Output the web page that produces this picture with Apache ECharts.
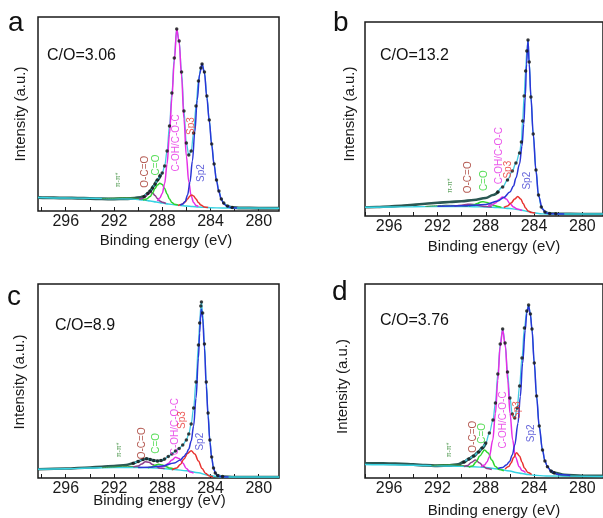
<!DOCTYPE html>
<html><head><meta charset="utf-8">
<script src="https://cdn.jsdelivr.net/npm/echarts@6/dist/echarts.min.js"></script>
<style>html,body{margin:0;padding:0;background:#fff}#c{width:603px;height:518px}</style>
</head><body><div id="c"></div>
<script>
// ---------- tick values ----------
const tickLabels = [280, 284, 288, 292, 296];
const tickMarks = [280, 282, 284, 286, 288, 290, 292, 294, 296, 298];
const compNames = ['π-π*', 'O-C=O', 'C=O', 'C-OH/C-O-C', 'Sp3', 'Sp2'];
const panelLetters = ['a', 'b', 'c', 'd'];
const ratioTexts = ['C/O=3.06', 'C/O=13.2', 'C/O=8.9', 'C/O=3.76'];

// ---------- panel a ----------
const a_base = [[298.3,13.5],[296,13],[294,12.7],[292,12.3],[290.5,12],[289.5,11],[289,10],[288.5,9],[288,8],[287.5,7],[287,6.2],[286.5,5.5],[286,5],[285.5,4.5],[285,4],[284.5,3.6],[284,3.3],[283,3],[278.3,2.8]];
const a_pi = [[293,12.5],[292,12.8],[291.3,13.4],[290.6,13.3],[290,12.4],[289.3,10.8]];
const a_oco = [[289.9,11.5],[289.6,12.7],[289.4,14.5],[289.2,17],[289.0,18.5],[288.8,18],[288.6,15.5],[288.4,12.5],[288.2,10],[288.0,8.8],[287.7,7.5]];
const a_co = [[289.6,11],[289.3,12],[289.0,14.5],[288.8,18],[288.6,22.5],[288.4,26],[288.2,27.7],[288.0,26.5],[287.8,22.5],[287.6,17],[287.4,12],[287.2,8.5],[287.0,6.8],[286.7,6]];
const a_coh = [[288.4,10],[288.2,13],[288.0,17.5],[287.8,27.5],[287.6,47],[287.4,77],[287.2,113],[287.0,150],[286.8,182],[286.6,169],[286.4,135],[286.2,92],[286.0,55],[285.8,29],[285.6,15],[285.4,8.5],[285.2,5.5],[285.0,4.3]];
const a_sp3 = [[286.7,5.5],[286.4,6.5],[286.1,9],[285.9,12],[285.7,15],[285.55,16],[285.4,15],[285.2,12],[285.0,8.5],[284.8,6],[284.5,4],[284.2,3.4]];
const a_sp2 = [[286.5,6],[286.3,7],[286.1,9.5],[285.9,16],[285.7,29],[285.5,50],[285.3,79],[285.1,111],[284.9,137],[284.7,147],[284.5,138],[284.3,113],[284.1,90],[283.9,66],[283.7,46],[283.5,30],[283.3,19],[283.1,11.5],[282.9,7],[282.6,4.5],[282.2,3.2],[281.8,3]];
const a_fit = [[289.5,14.5],[289.2,17.5],[289.0,20],[288.8,23],[288.6,27],[288.4,31],[288.2,35],[288.0,38],[287.8,45],[287.6,60],[287.4,85],[287.2,118],[287.0,153],[286.8,182],[286.6,170],[286.4,139],[286.2,100],[286.0,68],[285.8,56],[285.6,60],[285.4,78],[285.2,105],[285.0,130],[284.8,143],[284.7,147],[284.5,139],[284.3,115],[284.1,91],[283.9,67],[283.7,47],[283.5,31],[283.3,20],[283.1,12],[282.9,8],[282.6,5],[282.2,3.5]];
const a_bandL = [[298.3,13.5],[297,13.2],[296,13],[295,12.8],[294,12.5],[293,12.2],[292,12],[291,12.3],[290.3,12.8],[289.8,13.5],[289.5,14.5],[289.2,17.5],[289.0,20],[288.7,25],[288.4,31],[288.1,37]];
const a_bandR = [[282.6,5],[282.2,3.5],[281.5,3],[280,2.8],[278.3,2.8]];
const a_labelPos = [[291.69,31],[289.39,39.3],[288.48,46],[286.82,68],[285.58,85],[284.75,38]];

// ---------- panel b ----------
const b_base = [[298,8.7],[296,9],[294,9.3],[292,9.5],[290,9.5],[289,9.3],[288,9],[287,8.5],[286,7.5],[285.5,6.8],[285,5.8],[284.5,4.5],[284,3.2],[283.5,2.3],[283,2],[278.3,2]];
const b_pi = [[293,9.6],[292,10.2],[291.3,10.8],[290.5,10.5],[289.5,9.6]];
const b_oco = [[290.6,9.8],[290.0,10.8],[289.5,11.8],[289.0,11.5],[288.5,10.3],[288.0,9.4],[287.5,8.9]];
const b_co = [[289.4,10],[289.0,11],[288.7,12.5],[288.4,14],[288.2,14.3],[287.9,13.5],[287.6,12],[287.3,10.5],[287.0,9.5],[286.7,8.6]];
const b_coh = [[287.8,10],[287.5,11],[287.2,13],[286.9,16.5],[286.6,19],[286.3,17],[286.0,12.5],[285.7,9],[285.4,7],[285.0,5.5]];
const b_sp3 = [[286.5,8.5],[286.2,10],[285.9,13],[285.6,17],[285.35,19.5],[285.1,17],[284.9,12.5],[284.7,8],[284.5,5],[284.2,3.5],[283.9,3]];
const b_sp2 = [[292,9.7],[290,10.2],[288,11.5],[287,15],[286.5,18.5],[286,24],[285.7,30],[285.5,38],[285.2,52],[285.0,70],[284.85,92],[284.73,119],[284.62,152],[284.5,176],[284.4,152],[284.26,119],[284.07,82],[283.84,45],[283.63,20],[283.3,7],[283.0,3],[282.5,2.2],[281.5,2]];
const b_fit = [[287,24],[286.6,29],[286.2,36],[285.8,45],[285.5,53],[285.2,63],[285.05,74],[284.95,95],[284.82,120],[284.7,145],[284.6,165],[284.5,176],[284.4,154],[284.26,119],[284.07,82],[283.84,46],[283.63,21],[283.4,9],[283.1,4],[282.7,2.5],[282.2,2.2]];
const b_bandL = [[298,8.7],[297,9],[296,9.5],[295,10.3],[294,11.3],[293,12.3],[292,13.2],[291,14],[290,14.8],[289,16],[288,18],[287.4,21],[286.9,25]];
const b_bandR = [[283.1,4],[282.7,2.5],[282,2.2],[280,2],[278.3,2]];
const b_labelPos = [[290.94,30.3],[289.43,38.7],[288.16,35.3],[286.87,60.3],[286.1,46.3],[284.59,35.3]];

// ---------- panel c ----------
const c_base = [[298.3,8.7],[296,9.3],[294,10],[292,10.5],[290,10.5],[289,10.2],[288,9.5],[287,8.5],[286,7.3],[285,5.2],[284.3,3],[283.5,1.5],[283,1],[278.3,1]];
const c_pi = [[293,10.3],[292,11],[291.3,11.8],[290.5,11.6],[289.8,10.6]];
const c_oco = [[290.4,11],[290.0,12],[289.7,14],[289.4,16.3],[289.1,15.8],[288.8,13.5],[288.5,11.5],[288.2,10],[287.8,9.5]];
const c_co = [[289.2,10.3],[288.9,11],[288.6,12.8],[288.3,13.8],[288.0,13],[287.7,11.5],[287.4,10],[287.0,9]];
const c_coh = [[288.2,10.5],[287.8,12],[287.5,14.5],[287.2,18],[286.9,20.7],[286.6,19.5],[286.3,15],[286.0,9.5],[285.7,6],[285.4,4.8]];
const c_sp3 = [[287.2,8.2],[286.8,10],[286.5,13.5],[286.2,19],[285.9,24.5],[285.6,27.3],[285.3,24],[285.0,17],[284.7,9.5],[284.4,4.5],[284.1,2],[283.8,1.3]];
const c_sp2 = [[290,10.6],[289,10.8],[288,12],[287,15],[286.5,18],[286.2,21.5],[286,24.5],[285.8,29],[285.6,37],[285.4,52],[285.2,80],[285.0,120],[284.9,145],[284.8,165],[284.75,169],[284.65,160],[284.5,130],[284.35,92],[284.2,62],[284.05,36],[283.9,20],[283.75,10],[283.6,5],[283.4,2],[283.0,1.2],[282.5,1]];
const c_fit = [[290.4,14.7],[290,16.5],[289.6,18.5],[289.3,19.3],[289.0,18.5],[288.7,17.5],[288.4,17],[288.1,17.5],[287.8,19],[287.5,21.5],[287.2,24],[286.9,27],[286.6,29.5],[286.3,33],[286.0,38],[285.8,44],[285.6,54],[285.4,70],[285.2,96],[285.0,133],[284.9,155],[284.8,172],[284.75,176],[284.65,165],[284.5,134],[284.35,96],[284.2,65],[284.05,38],[283.9,21],[283.75,10],[283.6,5],[283.4,2.5],[283,1.5]];
const c_bandL = [[298.3,8.7],[296,9.5],[294,10.5],[293,11.3],[292,12],[291,13],[290.4,14.7],[290,16.5],[289.6,18.5],[289.3,19.3],[289.0,18.5],[288.7,17.5],[288.4,17],[288.1,17.5],[287.8,19]];
const c_bandR = [[283.4,2.5],[283,1.5],[282,1],[278.3,1]];
const c_labelPos = [[291.61,28],[289.67,34.7],[288.48,34.7],[286.96,51.3],[286.32,58],[284.89,36.3]];

// ---------- panel d ----------
const d_base = [[298,13.5],[296,13.2],[294,12.8],[292,12.3],[290,11.8],[289,11.2],[288,10.5],[287,9],[286,7],[285.5,5.5],[285,4.5],[284.5,3.5],[284,2.8],[283,2],[278.3,1.5]];
const d_pi = [[292.5,12.4],[291.5,13.2],[290.8,13.4],[290,12.5],[289.3,11]];
const d_oco = [[289.8,11.3],[289.5,12.5],[289.2,15.5],[288.85,18],[288.5,15],[288.2,11.5],[287.9,9.5],[287.5,8.5]];
const d_co = [[289.4,10.8],[289.1,12],[288.8,16],[288.5,22],[288.1,28],[287.8,25],[287.5,18],[287.2,11.5],[286.9,8.5],[286.5,7.3]];
const d_coh = [[288.4,11],[288.1,13],[287.9,16],[287.7,21.3],[287.42,38],[287.2,64.7],[287.0,98],[286.81,131.3],[286.6,148],[286.37,131.3],[286.18,98],[285.99,64.7],[285.77,38],[285.55,21.3],[285.22,11.3],[285.0,7.5],[284.7,5.5]];
const d_sp3 = [[286.4,9],[286.1,11.5],[285.9,15],[285.7,20.5],[285.45,25.3],[285.2,22],[285.0,16],[284.8,10],[284.5,5.5],[284.2,3.5]];
const d_sp2 = [[287,9.5],[286.6,10.5],[286.3,13],[286.04,16.3],[285.8,23],[285.6,33],[285.33,54.7],[285.14,81.3],[284.95,114.7],[284.73,148],[284.6,165],[284.45,172],[284.3,163],[284.17,148],[283.98,114.7],[283.79,81.3],[283.57,51.3],[283.3,28],[283.1,17],[282.89,11.3],[282.6,7],[282.34,5.3],[282,3.5],[281,2.5]];
const d_fit = [[289.8,16],[289.4,19],[289.0,22],[288.6,26],[288.3,30],[288.0,35],[287.7,45],[287.4,58],[287.2,75],[287.0,104],[286.8,134],[286.6,149],[286.4,135],[286.2,106],[286.0,80],[285.8,64],[285.6,60],[285.4,70],[285.2,92],[285.0,120],[284.8,150],[284.6,167],[284.45,173],[284.3,164],[284.17,149],[283.98,115],[283.79,82],[283.57,52],[283.3,28],[283.1,17],[282.89,11.3],[282.6,7],[282.34,5.3]];
const d_bandL = [[298,14.5],[297,14.5],[296,14.3],[295,14],[294,13.5],[293,12.7],[292,12.3],[291,12.5],[290.3,13.5],[289.8,16],[289.4,19],[289.0,22],[288.6,26],[288.3,30],[288.0,35]];
const d_bandR = [[282.6,7],[282.3,5],[281.5,3],[280,2],[278.3,2]];
const d_labelPos = [[291.0,28],[289.07,41.3],[288.25,44.7],[286.54,58],[285.36,68],[284.26,44.7]];

// ---------- build ----------
const FONT = "'Liberation Sans', Arial, sans-serif";
const panels = [
  {grid:{left:38,top:17,width:241,height:194}, xr:[278.32,298.3], bw:3, d:[a_base,a_pi,a_oco,a_co,a_coh,a_sp3,a_sp2,a_fit,a_bandL,a_bandR,a_labelPos]},
  {grid:{left:365,top:22,width:239,height:194}, xr:[278.29,298.0], bw:2.6, d:[b_base,b_pi,b_oco,b_co,b_coh,b_sp3,b_sp2,b_fit,b_bandL,b_bandR,b_labelPos]},
  {grid:{left:38,top:284,width:241,height:194}, xr:[278.32,298.3], bw:2.6, d:[c_base,c_pi,c_oco,c_co,c_coh,c_sp3,c_sp2,c_fit,c_bandL,c_bandR,c_labelPos]},
  {grid:{left:365,top:284,width:239,height:194}, xr:[278.29,298.0], bw:3, d:[d_base,d_pi,d_oco,d_co,d_coh,d_sp3,d_sp2,d_fit,d_bandL,d_bandR,d_labelPos]}
];
const compColors = ['#3d8f3d','#8e3f8e','#2fd42f','#e52ee5','#e8322e','#2a35d6'];
const labelColors = ['#3d8f3d','#a33228','#2fd42f','#e52ee5','#e8322e','#3a3ad0'];

const grids=[], xAxes=[], yAxes=[], series=[];
panels.forEach((p,i)=>{
  grids.push(Object.assign({show:true, borderColor:'#1a1a1a', borderWidth:1.5, containLabel:false}, p.grid));
  xAxes.push({type:'value', gridIndex:i, inverse:true, min:p.xr[0], max:p.xr[1],
    axisLine:{show:false}, splitLine:{show:false},
    axisTick:{show:true, inside:true, length:4, customValues:tickMarks, lineStyle:{color:'#1a1a1a',width:1}},
    axisLabel:{customValues:tickLabels, fontSize:16, color:'#1a1a1a', fontFamily:FONT, margin:3, formatter:v=>String(v)}});
  yAxes.push({type:'value', gridIndex:i, min:0, max:194, show:false});
  const [base,pi,oco,co,coh,sp3,sp2,fit,bandL,bandR,lpos] = p.d;
  const line = (data,color,w,z)=>({type:'line', xAxisIndex:i, yAxisIndex:i, data, symbol:'none', smooth:0.35, smoothMonotone:'x',
    lineStyle:{color, width:w}, z, silent:true, animation:false});
  series.push(line(bandL,'#2b5853',p.bw,2));
  series.push(line(bandR,'#2b5853',p.bw,2));
  series.push(line(base,'#36d3e3',1.4,3));
  series.push(line(fit,'#45c9e0',1.3,3));
  [pi,oco,co,coh,sp3,sp2].forEach((arr,k)=>series.push(line(arr,compColors[k],k===0?1:1.5,4)));
  series.push({type:'scatter', xAxisIndex:i, yAxisIndex:i, data:fit, symbol:'circle', symbolSize:3.5,
    itemStyle:{color:'#111'}, z:6, silent:true, animation:false});
  series.push({type:'scatter', xAxisIndex:i, yAxisIndex:i, symbolSize:0, z:7, silent:true, animation:false,
    data: lpos.map((v,k)=>({value:v, label:{show:true, formatter:compNames[k], rotate:90, position:'inside',
      color:labelColors[k], fontSize:k===0?7:10, fontFamily:FONT}}))});
});

const graphic = [];
const letterPos = [[8,23.3],[333,23.3],[7,297.3],[332,292.3]];
const ratioPos = [[47,56],[380,56],[55,326],[380,321]];
const xNamePos = [[166,240.5],[494,247.2],[159.5,501],[494,510.5]];
const yNamePos = [[21,114],[350,114],[20,382],[342.5,386.5]];
for (let i=0;i<4;i++){
  graphic.push({type:'text', x:letterPos[i][0], y:letterPos[i][1], style:{text:panelLetters[i], fontSize:28, fontFamily:FONT, fill:'#111', textAlign:'left', textVerticalAlign:'middle'}});
  graphic.push({type:'text', x:ratioPos[i][0], y:ratioPos[i][1], style:{text:ratioTexts[i], fontSize:16, fontFamily:FONT, fill:'#111', textAlign:'left', textVerticalAlign:'middle'}});
  graphic.push({type:'text', x:xNamePos[i][0], y:xNamePos[i][1], style:{text:'Binding energy (eV)', fontSize:15, fontFamily:FONT, fill:'#1a1a1a', textAlign:'center', textVerticalAlign:'middle'}});
  graphic.push({type:'text', x:yNamePos[i][0], y:yNamePos[i][1], rotation:Math.PI/2, style:{text:'Intensity (a.u.)', fontSize:15, fontFamily:FONT, fill:'#1a1a1a', textAlign:'center', textVerticalAlign:'middle'}});
}

const chart = echarts.init(document.getElementById('c'), null, {renderer:'canvas'});
chart.setOption({animation:false, backgroundColor:'#fff', grid:grids, xAxis:xAxes, yAxis:yAxes, series, graphic});
</script></body></html>
